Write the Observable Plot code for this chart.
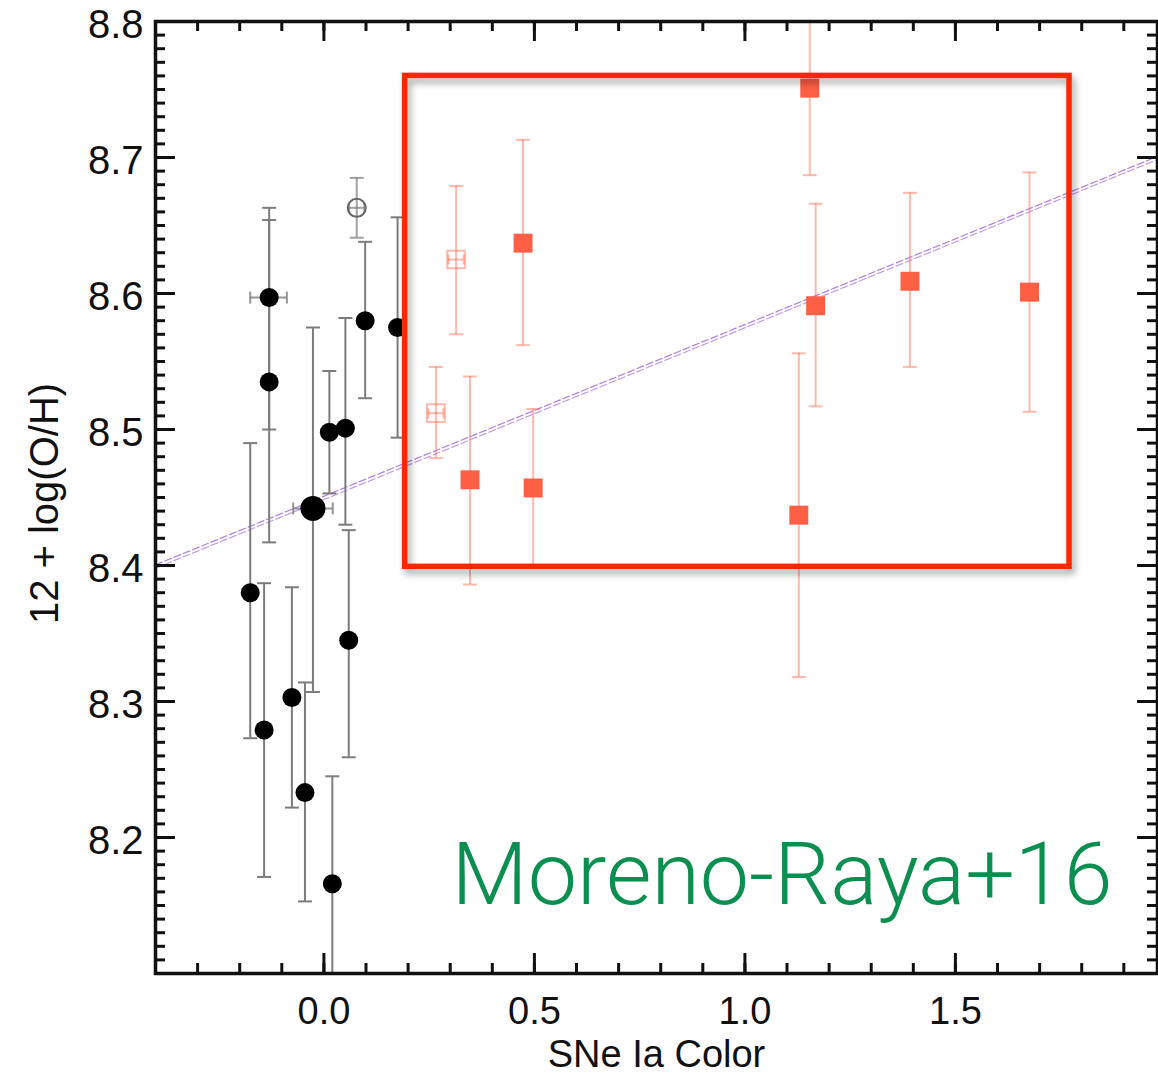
<!DOCTYPE html>
<html>
<head>
<meta charset="utf-8">
<script src="https://cdn.jsdelivr.net/npm/d3@7"></script>
<script src="https://cdn.jsdelivr.net/npm/@observablehq/plot@0.6"></script>
<style>
  html, body { margin: 0; padding: 0; background: #fff; }
  #chart svg { display: block; }
</style>
</head>
<body>
<div id="chart"></div>
<script>
// ---------------- data ----------------
// Black filled circles: SN Ia colour vs 12+log(O/H), with vertical errors
const blkColor = [-0.130, -0.130, -0.175, -0.142, -0.076, -0.045, 0.013, 0.051, 0.059, 0.020, 0.098, 0.175];
const blkOH    = [ 8.597,  8.535,  8.380,  8.279,  8.303,  8.233, 8.498, 8.501, 8.345, 8.166, 8.580, 8.575];
const blkLo    = [ 8.500,  8.417,  8.273,  8.171,  8.222,  8.153, 8.453, 8.430, 8.259, 8.060, 8.523, 8.494];
const blkHi    = [ 8.663,  8.654,  8.490,  8.387,  8.384,  8.314, 8.543, 8.582, 8.426, 8.245, 8.638, 8.656];

// Large black point (mean) with colour and abundance errors
const meanColor = [-0.026];
const meanOH    = [8.442];
const meanLo    = [8.307];
const meanHi    = [8.575];
const meanCLo   = [-0.073];
const meanCHi   = [0.021];

// Horizontal (colour) error of the first black point
const blkXerrColor = [-0.130];
const blkXerrOH    = [8.597];
const blkXerrLo    = [-0.175];
const blkXerrHi    = [-0.088];

// Open black circle
const openBlkColor = [0.078];
const openBlkOH    = [8.663];
const openBlkLo    = [8.641];
const openBlkHi    = [8.685];
const openBlkCLo   = [0.060];
const openBlkCHi   = [0.096];

// Red filled squares
const redColor = [0.347, 0.497, 0.473, 1.154, 1.168, 1.128, 1.392, 1.676];
const redOH    = [8.463, 8.457, 8.637, 8.751, 8.591, 8.437, 8.609, 8.601];
const redLo    = [8.386, 8.400, 8.562, 8.687, 8.517, 8.318, 8.546, 8.513];
const redHi    = [8.539, 8.515, 8.713, 8.840, 8.666, 8.556, 8.674, 8.689];

// Red open squares
const redOpenColor = [0.314, 0.266];
const redOpenOH    = [8.625, 8.512];
const redOpenLo    = [8.570, 8.479];
const redOpenHi    = [8.679, 8.546];
const redOpenCLo   = [0.296, 0.248];
const redOpenCHi   = [0.332, 0.284];

// Linear fits (two nearly coincident dashed lines)
const fitColor = [-0.40, 1.98];
const fitOH_a  = [8.4005, 8.7008];
const fitOH_b  = [8.3980, 8.6985];

// Highlight box (data coordinates)
const boxColor = [0.193, 1.771];
const boxOH    = [8.399, 8.760];

// Axis ticks
const xDomain = [-0.40, 1.98];
const yDomain = [8.10, 8.80];
const xMajor  = [0.0, 0.5, 1.0, 1.5];
const xMinor  = d3.range(-4, 20).map(i => i / 10);
const yMajor  = d3.range(81, 89).map(i => i / 10);
const yMinor  = d3.range(810, 881).map(i => i / 100);
const yLabels = [8.2, 8.3, 8.4, 8.5, 8.6, 8.7, 8.8];

const xLabel = "SNe Ia Color";
const yLabel = "12 + log(O/H)";
const note   = "Moreno-Raya+16";

// ---------------- build tables ----------------
const blk = blkColor.map((c, i) => ({c, oh: blkOH[i], lo: blkLo[i], hi: blkHi[i]}));
const mean = meanColor.map((c, i) => ({c, oh: meanOH[i], lo: meanLo[i], hi: meanHi[i], clo: meanCLo[i], chi: meanCHi[i]}));
const blkX = blkXerrColor.map((c, i) => ({c, oh: blkXerrOH[i], clo: blkXerrLo[i], chi: blkXerrHi[i]}));
const openBlk = openBlkColor.map((c, i) => ({c, oh: openBlkOH[i], lo: openBlkLo[i], hi: openBlkHi[i], clo: openBlkCLo[i], chi: openBlkCHi[i]}));
const red = redColor.map((c, i) => ({c, oh: redOH[i], lo: redLo[i], hi: redHi[i]}));
const redOpen = redOpenColor.map((c, i) => ({c, oh: redOpenOH[i], lo: redOpenLo[i], hi: redOpenHi[i], clo: redOpenCLo[i], chi: redOpenCHi[i]}));
const fitA = fitColor.map((c, i) => ({c, oh: fitOH_a[i]}));
const fitB = fitColor.map((c, i) => ({c, oh: fitOH_b[i]}));
const box = [{x1: boxColor[0], x2: boxColor[1], y1: boxOH[0], y2: boxOH[1]}];

// ---------------- layout ----------------
const W = 1158, H = 1074;
const mL = 155, mR = 1, mT = 21, mB = 101;
const plotW = W - mL - mR, plotH = H - mT - mB;
const FONT = "'Liberation Sans', Arial, Helvetica, sans-serif";

// cap symbols
const capH = {draw(ctx, size) { const r = Math.sqrt(size / Math.PI); ctx.moveTo(-r, 0); ctx.lineTo(r, 0); }};
const capV = {draw(ctx, size) { const r = Math.sqrt(size / Math.PI); ctx.moveTo(0, -r); ctx.lineTo(0, r); }};

const GREY = "#7c7c7c";
const RED = "#ff5f45";
const REDERR = "#ff6347";
const BOX = "#ff2600";

function yErr(data, stroke, opacity, capR) {
  return [
    Plot.ruleX(data, {x: "c", y1: "lo", y2: "hi", stroke, strokeOpacity: opacity, strokeWidth: 2, clip: true}),
    Plot.dot(data, {x: "c", y: "lo", symbol: capH, r: capR, stroke, strokeOpacity: opacity, strokeWidth: 2, fill: "none", clip: true}),
    Plot.dot(data, {x: "c", y: "hi", symbol: capH, r: capR, stroke, strokeOpacity: opacity, strokeWidth: 2, fill: "none", clip: true})
  ];
}
function xErr(data, stroke, opacity, capR) {
  return [
    Plot.ruleY(data, {y: "oh", x1: "clo", x2: "chi", stroke, strokeOpacity: opacity, strokeWidth: 2, clip: true}),
    Plot.dot(data, {y: "oh", x: "clo", symbol: capV, r: capR, stroke, strokeOpacity: opacity, strokeWidth: 2, fill: "none", clip: true}),
    Plot.dot(data, {y: "oh", x: "chi", symbol: capV, r: capR, stroke, strokeOpacity: opacity, strokeWidth: 2, fill: "none", clip: true})
  ];
}

const chart = Plot.plot({
  width: W, height: H,
  marginLeft: mL, marginRight: mR, marginTop: mT, marginBottom: mB,
  style: {fontFamily: FONT, background: "white", color: "#111"},
  x: {domain: xDomain, axis: null},
  y: {domain: yDomain, axis: null},
  marks: [
    // fits
    Plot.line(fitA, {x: "c", y: "oh", stroke: "#b07ce6", strokeWidth: 1.2, strokeDasharray: "7,3", clip: true}),
    Plot.line(fitB, {x: "c", y: "oh", stroke: "#c39be9", strokeWidth: 1.2, strokeDasharray: "7,3", clip: true}),

    // black points
    ...yErr(blk, GREY, 1, 7),
    ...xErr(blkX, GREY, 0.8, 6),
    ...yErr(mean, GREY, 1, 7),
    ...xErr(mean, GREY, 0.8, 6),
    ...yErr(openBlk, GREY, 0.7, 7),
    ...xErr(openBlk, GREY, 0.7, 5),
    Plot.dot(openBlk, {x: "c", y: "oh", r: 9, stroke: "#666", strokeWidth: 2, fill: "none"}),
    Plot.dot(blk, {x: "c", y: "oh", r: 9.5, fill: "#000", stroke: "none"}),
    Plot.dot(mean, {x: "c", y: "oh", r: 12.5, fill: "#000", stroke: "none"}),

    // red points
    ...yErr(red, REDERR, 0.45, 7),
    ...yErr(redOpen, REDERR, 0.45, 7),
    ...xErr(redOpen, REDERR, 0.45, 5),
    Plot.dot(redOpen, {x: "c", y: "oh", symbol: "square", r: 10, stroke: REDERR, strokeOpacity: 0.45, strokeWidth: 2, fill: "none"}),
    Plot.dot(red, {x: "c", y: "oh", symbol: "square", r: 10.7, fill: RED, stroke: "none"}),

    // highlight box
    Plot.rect(box, {x1: "x1", x2: "x2", y1: "y1", y2: "y2", fill: "none", stroke: BOX, strokeWidth: 5.5}),

    // frame and inward ticks
    Plot.frame({stroke: "#111", strokeWidth: 3.5}),
    Plot.tickX(xMinor, {x: d => d, insetTop: plotH - 10, stroke: "#111", strokeWidth: 3}),
    Plot.tickX(xMajor, {x: d => d, insetTop: plotH - 20, stroke: "#111", strokeWidth: 3}),
    Plot.tickX(xMinor, {x: d => d, insetBottom: plotH - 10, stroke: "#111", strokeWidth: 3}),
    Plot.tickX(xMajor, {x: d => d, insetBottom: plotH - 20, stroke: "#111", strokeWidth: 3}),
    Plot.tickY(yMinor, {y: d => d, insetRight: plotW - 10, stroke: "#111", strokeWidth: 3}),
    Plot.tickY(yMajor, {y: d => d, insetRight: plotW - 20, stroke: "#111", strokeWidth: 3}),
    Plot.tickY(yMinor, {y: d => d, insetLeft: plotW - 10, stroke: "#111", strokeWidth: 3}),
    Plot.tickY(yMajor, {y: d => d, insetLeft: plotW - 20, stroke: "#111", strokeWidth: 3}),

    // tick labels
    Plot.axisX({ticks: xMajor, tickSize: 0, tickPadding: 24, fontSize: 38, tickFormat: d3.format(".1f"), label: null, fill: "#111"}),
    Plot.axisY({ticks: yLabels, tickSize: 0, tickPadding: 12, dy: 4, fontSize: 40, tickFormat: d3.format(".1f"), label: null, fill: "#111"}),

    // axis titles
    Plot.text([xLabel], {frameAnchor: "bottom", textAnchor: "middle", lineAnchor: "middle", dy: 81, fontSize: 38, fill: "#111"}),
    Plot.text([yLabel], {frameAnchor: "left", textAnchor: "middle", lineAnchor: "middle", dx: -110, dy: 6, rotate: -90, fontSize: 40, fill: "#111"}),

    // annotation
    Plot.text([note], {frameAnchor: "bottom-right", textAnchor: "end", lineAnchor: "middle", dx: -45, dy: -98, fontSize: 88, fontWeight: 300, fontFamily: "Roboto, Lato, 'Open Sans', sans-serif", fill: "#0a8f50"})
  ]
});

// drop shadow for the highlight box
const svgNS = "http://www.w3.org/2000/svg";
const defs = document.createElementNS(svgNS, "defs");
defs.innerHTML = '<filter id="boxShadow" x="-10%" y="-10%" width="120%" height="120%"><feDropShadow dx="3" dy="5" stdDeviation="3.5" flood-color="#000" flood-opacity="0.35"/></filter>';
chart.insertBefore(defs, chart.firstChild);
chart.querySelectorAll("g").forEach(g => {
  if ((g.getAttribute("stroke") || "").toLowerCase() === BOX && g.querySelector("rect")) g.setAttribute("filter", "url(#boxShadow)");
});

document.getElementById("chart").appendChild(chart);
</script>
</body>
</html>
